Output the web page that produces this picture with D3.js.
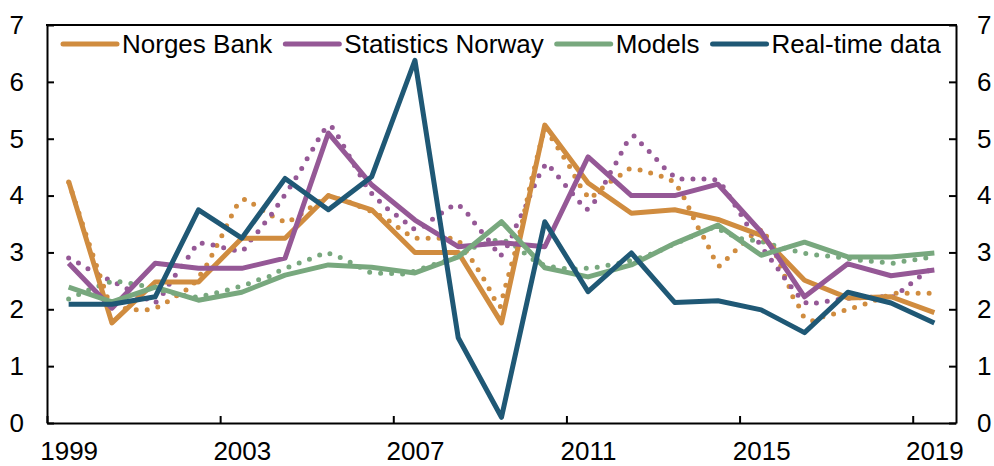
<!DOCTYPE html>
<html>
<head>
<meta charset="utf-8">
<script src="https://cdn.jsdelivr.net/npm/d3@7"></script>
<style>
  body { margin: 0; background: #fff; }
  svg { display: block; font-family: "Liberation Sans", Arial, sans-serif; }
</style>
</head>
<body>
<div id="chart"></div>
<script>
// annual series, one value per year 1999..2019
const years = [1999, 2000, 2001, 2002, 2003, 2004, 2005, 2006, 2007, 2008, 2009,
  2010, 2011, 2012, 2013, 2014, 2015, 2016, 2017, 2018, 2019]
const labelYears = [1999, 2003, 2007, 2011, 2015, 2019]
const yTicks = [0, 1, 2, 3, 4, 5, 6, 7]

const norgesBank = [4.25, 1.76, 2.48, 2.48, 3.25, 3.25, 4.0, 3.75, 3.0, 3.0, 1.76,
  5.24, 4.22, 3.69, 3.75, 3.58, 3.3, 2.51, 2.2, 2.22, 1.94]
const statisticsNorway = [2.81, 2.02, 2.81, 2.72, 2.72, 2.9, 5.1, 4.19, 3.57, 3.1, 3.17,
  3.1, 4.68, 4.0, 4.0, 4.2, 3.36, 2.22, 2.8, 2.59, 2.69]
const models = [2.39, 2.13, 2.39, 2.16, 2.3, 2.6, 2.78, 2.74, 2.64, 2.92, 3.54,
  2.73, 2.57, 2.78, 3.16, 3.48, 2.95, 3.18, 2.92, 2.92, 2.99]
const realTime = [2.09, 2.09, 2.22, 3.75, 3.25, 4.3, 3.75, 4.33, 6.38, 1.5, 0.1,
  3.54, 2.31, 2.99, 2.12, 2.15, 1.99, 1.59, 2.3, 2.11, 1.76]

// dotted series: [years after 1999, value]
const norgesBankDotted = [[0, 4.24], [0.45, 3.2], [0.89, 2.22], [1.25, 2.02], [1.58, 1.99], [1.85, 1.99],
  [2.11, 2.05], [2.34, 2.16], [2.58, 2.28], [2.83, 2.39], [3.15, 2.72], [3.29, 2.92], [3.55, 3.31],
  [3.79, 3.69], [3.93, 3.89], [4.1, 3.94], [4.33, 3.82], [4.58, 3.69], [4.81, 3.6], [5.04, 3.52],
  [5.3, 3.64], [5.53, 3.76], [6.0, 4.0], [6.5, 3.88], [7.0, 3.72], [7.31, 3.6], [7.54, 3.48],
  [7.77, 3.35], [8.03, 3.25], [8.87, 3.25], [9.08, 3.16], [9.23, 2.97], [9.39, 2.78], [9.54, 2.6],
  [9.69, 2.4], [9.8, 2.22], [9.97, 2.04], [10.08, 2.37], [10.23, 2.78], [10.38, 3.19], [10.7, 4.3],
  [11.0, 5.2], [11.31, 4.83], [11.46, 4.65], [11.62, 4.45], [11.74, 4.27], [11.88, 4.09], [12.04, 3.94],
  [12.46, 4.22], [12.69, 4.33], [12.95, 4.47], [13.2, 4.45], [13.47, 4.39], [13.74, 4.33], [13.99, 4.24],
  [14.14, 4.07], [14.28, 3.87], [14.51, 3.48], [14.65, 3.3], [14.78, 3.1], [14.9, 2.91], [15.03, 2.76],
  [15.24, 2.91], [15.44, 3.06], [15.65, 3.2], [15.84, 3.35], [16.05, 3.41], [16.16, 3.22], [16.27, 3.08],
  [16.41, 2.84], [16.53, 2.6], [16.63, 2.43], [16.73, 2.22], [16.87, 2.05], [16.99, 1.85], [17.19, 1.8],
  [17.43, 1.87], [17.73, 1.93], [18.0, 2.0], [18.28, 2.06], [18.55, 2.13], [18.78, 2.21], [19.09, 2.28],
  [19.94, 2.28]]
const statisticsNorwayDotted = [[0, 2.9], [0.26, 2.8], [0.5, 2.69], [0.75, 2.59], [1.0, 2.49], [1.26, 2.4],
  [1.52, 2.28], [1.75, 2.2], [2.0, 2.11], [2.18, 2.27], [2.34, 2.46], [2.5, 2.64], [2.66, 2.8], [2.83, 2.99],
  [2.98, 3.17], [3.24, 3.15], [3.5, 3.1], [3.77, 3.04], [4.03, 3.03], [4.19, 3.2], [4.39, 3.38], [4.56, 3.55],
  [4.74, 3.72], [4.88, 3.89], [5.05, 4.07], [5.19, 4.24], [5.35, 4.43], [5.48, 4.61], [5.63, 4.8],
  [5.77, 4.99], [5.92, 5.17], [6.06, 5.23], [6.22, 5.05], [6.36, 4.86], [6.55, 4.6], [6.77, 4.31],
  [6.92, 4.1], [7.1, 3.96], [7.31, 3.8], [7.54, 3.67], [7.77, 3.54], [7.98, 3.41], [8.2, 3.45],
  [8.46, 3.62], [8.69, 3.73], [8.93, 3.85], [9.12, 3.78], [9.3, 3.6], [9.46, 3.43], [9.64, 3.28],
  [9.81, 3.1], [9.97, 2.93], [10.1, 3.06], [10.24, 3.28], [10.33, 3.45], [10.45, 3.64], [10.57, 3.83],
  [10.67, 4.03], [10.8, 4.24], [10.91, 4.43], [11.04, 4.57], [11.24, 4.4], [11.41, 4.24], [11.6, 4.07],
  [11.77, 3.91], [11.97, 3.75], [12.1, 3.83], [12.24, 4.01], [12.39, 4.22], [12.51, 4.4], [12.65, 4.58],
  [12.78, 4.77], [12.92, 4.97], [13.07, 5.05], [13.26, 4.89], [13.47, 4.73], [13.66, 4.57], [13.85, 4.42],
  [14.07, 4.29], [14.91, 4.29], [15.11, 4.17], [15.42, 3.8], [15.57, 3.62], [15.72, 3.43], [15.88, 3.25],
  [16.03, 3.07], [16.2, 2.9], [16.37, 2.73], [16.53, 2.56], [16.7, 2.39], [16.88, 2.22], [17.07, 2.09],
  [17.36, 2.12], [17.65, 2.16], [17.94, 2.19], [18.78, 2.22], [19.05, 2.22], [19.27, 2.34], [19.49, 2.47],
  [19.71, 2.6], [19.94, 2.72]]
const modelsDotted = [[0, 2.18], [0.26, 2.27], [0.52, 2.36], [0.77, 2.43], [1.04, 2.5], [1.33, 2.47],
  [1.6, 2.43], [1.87, 2.4], [2.15, 2.33], [2.43, 2.28], [2.74, 2.23], [3.0, 2.21], [3.27, 2.27],
  [3.54, 2.31], [3.81, 2.37], [4.1, 2.43], [4.35, 2.51], [4.62, 2.57], [4.88, 2.68], [5.15, 2.76],
  [5.41, 2.84], [5.67, 2.91], [5.94, 3.0], [6.19, 2.94], [6.45, 2.85], [6.7, 2.75], [6.95, 2.65],
  [7.23, 2.63], [7.52, 2.63], [7.79, 2.62], [8.1, 2.7], [8.35, 2.77], [8.58, 2.82], [8.85, 2.88],
  [9.12, 2.98], [9.39, 3.1], [9.66, 3.16], [9.89, 3.22], [10.16, 3.19], [10.39, 3.08], [10.62, 2.93],
  [10.88, 2.8], [11.14, 2.75], [11.39, 2.72], [11.7, 2.71], [11.97, 2.72], [12.24, 2.74], [12.51, 2.78],
  [12.8, 2.82], [13.04, 2.87], [13.31, 2.93], [13.59, 3.01], [13.85, 3.1], [14.12, 3.19], [14.39, 3.28],
  [14.66, 3.38], [14.9, 3.44], [15.2, 3.35], [15.46, 3.25], [15.75, 3.22], [15.97, 3.2], [16.24, 3.14],
  [16.5, 3.08], [16.82, 3.02], [17.09, 2.97], [17.36, 2.95], [17.65, 2.93], [17.94, 2.9], [18.2, 2.87],
  [18.5, 2.85], [18.78, 2.83], [19.05, 2.81], [19.35, 2.85], [19.61, 2.88], [19.89, 2.91]]

const width = 994
const height = 466
const margin = { top: 25, right: 38, bottom: 43, left: 47 }

const colors = {
  nb: '#D08C3F',
  sn: '#955896',
  models: '#78A87E',
  rt: '#1F5875'
}

const svg = d3.select('#chart')
  .append('svg')
  .attr('width', width)
  .attr('height', height)

// one band per year; points sit at the centre of each band
const x = d3.scaleLinear()
  .domain([years[0] - 0.5, years[years.length - 1] + 0.5])
  .range([margin.left, width - margin.right])
const y = d3.scaleLinear()
  .domain([0, 7])
  .range([height - margin.bottom, margin.top])

const bandW = x(1) - x(0)

// axes
const styleAxis = g => {
  g.select('.domain').attr('stroke', '#000').attr('stroke-width', 2)
  g.selectAll('.tick line').attr('stroke', '#000').attr('stroke-width', 2)
  g.selectAll('text').attr('font-size', 26).attr('fill', '#000')
    .attr('font-family', '"Liberation Sans", Arial, sans-serif')
}

svg.append('g')
  .attr('transform', `translate(0,${y(0)})`)
  .call(d3.axisBottom(x)
    .tickValues(labelYears.map(d => d - 0.5))
    .tickSizeInner(-7)
    .tickSizeOuter(0)
    .tickPadding(19)
    .tickFormat(d => d + 0.5))
  .call(styleAxis)
  .call(g => g.selectAll('text').attr('x', bandW / 2))

svg.append('g')
  .attr('transform', `translate(${margin.left},0)`)
  .call(d3.axisLeft(y).tickValues(yTicks).tickFormat(d3.format('d'))
    .tickSizeInner(-7).tickSizeOuter(0).tickPadding(23))
  .call(styleAxis)

svg.append('g')
  .attr('transform', `translate(${width - margin.right},0)`)
  .call(d3.axisRight(y).tickValues(yTicks).tickFormat(d3.format('d'))
    .tickSizeInner(-7).tickSizeOuter(0).tickPadding(21))
  .call(styleAxis)

// top border of the plot box
svg.append('line')
  .attr('x1', margin.left - 1).attr('x2', width - margin.right + 1)
  .attr('y1', y(7)).attr('y2', y(7))
  .attr('stroke', '#000').attr('stroke-width', 2)

// lines
const line = d3.line().x(d => x(d[0])).y(d => y(d[1]))
const annual = vals => vals.map((v, i) => [years[i], v])
const shifted = pts => pts.map(d => [years[0] + d[0], d[1]])

const dotted = [
  { data: shifted(norgesBankDotted), color: colors.nb },
  { data: shifted(statisticsNorwayDotted), color: colors.sn },
  { data: shifted(modelsDotted), color: colors.models }
]
svg.append('g').selectAll('path')
  .data(dotted)
  .join('path')
  .attr('d', d => line(d.data))
  .attr('fill', 'none')
  .attr('stroke', d => d.color)
  .attr('stroke-width', 5)
  .attr('stroke-linecap', 'round')
  .attr('stroke-dasharray', '0 11')

const series = [
  { name: 'Norges Bank', data: norgesBank, color: colors.nb },
  { name: 'Statistics Norway', data: statisticsNorway, color: colors.sn },
  { name: 'Models', data: models, color: colors.models },
  { name: 'Real-time data', data: realTime, color: colors.rt }
]
svg.append('g').selectAll('path')
  .data(series)
  .join('path')
  .attr('d', d => line(annual(d.data)))
  .attr('fill', 'none')
  .attr('stroke', d => d.color)
  .attr('stroke-width', 5)
  .attr('stroke-linejoin', 'round')

// legend
const legend = svg.append('g').attr('transform', 'translate(63,44)')
let lx = 0
series.forEach(s => {
  const item = legend.append('g').attr('transform', `translate(${lx},0)`)
  item.append('line')
    .attr('x1', 0).attr('x2', 54)
    .attr('stroke', s.color).attr('stroke-width', 5).attr('stroke-linecap', 'round')
  const t = item.append('text')
    .attr('x', 59).attr('y', 9)
    .attr('font-size', 26).attr('fill', '#000')
    .text(s.name)
  lx += 59 + t.node().getComputedTextLength() + 13
})
</script>
</body>
</html>
